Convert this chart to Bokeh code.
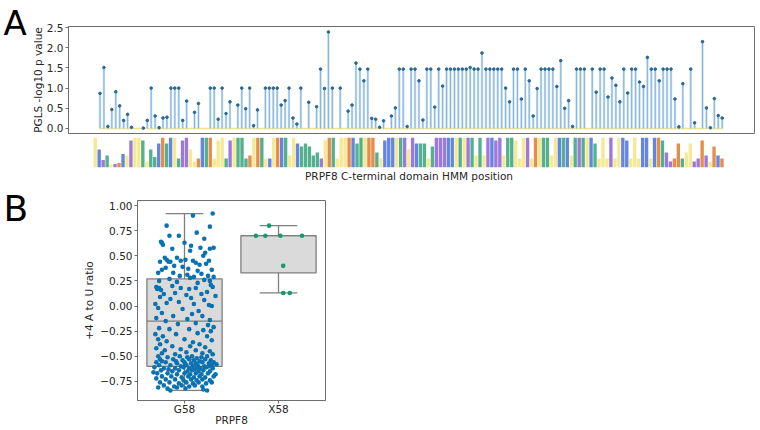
from bokeh.plotting import figure
from bokeh.layouts import column, row
from bokeh.models import Range1d, FixedTicker, PrintfTickFormatter
from bokeh.core.properties import value
from bokeh.embed import file_html
from bokeh.resources import INLINE

# ---------------- data ----------------
STEM_POS = [0, 1, 2, 3, 4, 5, 6, 7, 8, 11, 12, 13, 14, 15, 16, 17, 18, 19, 20, 21, 22, 24, 25,
            28, 29, 30, 31, 32, 33, 35, 36, 37, 38, 39, 40, 42, 43, 44, 45, 46, 47, 48, 49, 50,
            51, 53, 55, 56, 57, 58, 59, 61, 63, 64, 65, 66, 67, 68, 69, 70, 71, 72, 74, 75, 76,
            77, 78, 79, 80, 81, 82, 83, 84, 85, 86, 87, 88, 89, 90, 91, 92, 93, 94, 95, 96, 97,
            98, 99, 100, 101, 102, 103, 104, 105, 106, 107, 108, 109, 110, 111, 112, 113, 114,
            115, 116, 117, 118, 119, 120, 121, 122, 123, 125, 126, 127, 128, 129, 130, 131, 132,
            133, 134, 135, 136, 137, 138, 139, 140, 141, 142, 143, 144, 145, 146, 147, 148, 150,
            151, 153, 154, 155, 156, 157, 158]
STEM_VAL = [0.87, 1.51, 0.05, 0.47, 0.91, 0.56, 0.20, 0.35, 0.03, 0.01, 0.20, 1.00, 0.31, 0.02,
            0.26, 0.28, 1.00, 1.00, 1.00, 0.20, 0.68, 0.40, 0.62,
            1.00, 1.00, 0.23, 1.00, 0.37, 0.66, 0.58, 1.00, 0.49, 1.00, 0.07, 0.46, 1.00, 1.00,
            1.00, 1.00, 0.58, 0.69, 1.00, 0.26, 0.11,
            1.00, 0.65, 0.54, 1.47, 0.99, 2.39, 1.00, 1.00, 0.43, 0.58, 1.62, 1.47, 1.18, 1.47,
            0.25, 0.23, 0.03, 0.19, 0.31, 0.51, 1.47,
            1.47, 0.05, 1.47, 1.47, 1.18, 0.21, 1.47, 1.47, 0.53, 1.47, 1.05, 1.47, 1.47, 1.47,
            1.47, 1.47, 1.47, 1.51, 1.47, 1.47, 1.87,
            1.47, 1.47, 1.47, 1.47, 1.47, 1.00, 0.66, 1.47, 1.47, 0.73, 1.47, 1.18, 0.31, 0.99,
            1.47, 1.47, 1.47,
            1.47, 1.04, 1.68, 0.50, 0.69, 0.05, 1.47, 1.47, 1.47, 1.47, 0.90, 1.47, 1.47, 0.78,
            1.25, 1.07, 0.66,
            1.47, 0.88, 1.47, 1.47, 1.15, 1.04, 1.76, 1.47, 1.47, 1.18, 1.47, 1.47, 1.47, 0.73,
            0.04, 1.11, 1.47,
            0.14, 2.15, 0.51, 0.02, 0.74, 0.32, 0.26]

LOGO_LETTERS = ("FKYSANERMP" "FFTATSHDGK" "LSNNLAERTD" "VLLGQLGGSE" "FETIKLEHTA"
                "FKGTGSSNFE" "GAFFEKSGFE" "DSVKKKLTNL" "QRSGASQPNR" "RFTLNSVTAN"
                "RNYITGFVLQ" "ADLTGVLHGK" "ITPTLKSALV" "QIFRHALVKK" "AHESYNEDSA"
                "CQNDQADRE")
LOGO_HEIGHT = [1.0, 0.6, 0.25, 0.4, 0.1, 0.12, 0.15, 0.45, 0.4, 0.9,
               1.0, 1.0, 0.9, 0.2, 0.6, 0.35, 0.8, 1.0, 0.8, 1.0,
               1.0, 0.3, 0.9, 1.0, 0.6, 0.2, 0.3, 1.0, 1.0, 1.0,
               0.3, 0.9, 1.0, 0.3, 0.9, 1.0, 1.0, 1.0, 0.3, 0.4,
               1.0, 1.0, 1.0, 0.3, 0.3, 1.0, 1.0, 1.0, 1.0, 0.4,
               1.0, 0.8, 0.7, 0.8, 0.7, 0.4, 0.5, 0.3, 0.9, 1.0,
               1.0, 0.3, 1.0, 1.0, 1.0, 1.0, 0.8, 1.0, 1.0, 1.0,
               1.0, 0.5, 0.3, 0.9, 1.0, 1.0, 1.0, 1.0, 1.0, 0.6,
               1.0, 0.8, 0.8, 0.8, 0.3, 0.7, 1.0, 1.0, 1.0, 1.0,
               1.0, 1.0, 1.0, 1.0, 1.0, 1.0, 0.4, 1.0, 0.4, 1.0,
               1.0, 0.9, 1.0, 0.4, 1.0, 1.0, 0.9, 0.3, 1.0, 1.0,
               0.3, 1.0, 1.0, 1.0, 1.0, 0.4, 1.0, 1.0, 1.0, 1.0,
               0.4, 1.0, 1.0, 1.0, 1.0, 1.0, 0.8, 0.3, 1.0, 0.3,
               1.0, 0.3, 1.0, 1.0, 0.9, 0.3, 1.0, 0.3, 1.0, 1.0,
               0.3, 1.0, 1.0, 0.9, 0.5, 0.2, 0.3, 0.8, 0.3, 0.5,
               0.8, 0.2, 0.3, 0.9, 0.4, 0.2, 0.7, 0.4, 0.3]

LETTER_COLORS = {}
for _l in "AVLIMFWC":
    LETTER_COLORS[_l] = "#f3e37a"
for _l in "GST":
    LETTER_COLORS[_l] = "#2a9d70"
for _l in "KRH":
    LETTER_COLORS[_l] = "#3d68d8"
for _l in "QNYP":
    LETTER_COLORS[_l] = "#8658d0"
for _l in "DE":
    LETTER_COLORS[_l] = "#e0701f"

A_YTICKS = [0.0, 0.5, 1.0, 1.5, 2.0, 2.5]

B_CATS = ["G58", "X58"]
B_Q1 = [-0.60, 0.33]
B_MED = [-0.15, 0.70]
B_Q3 = [0.27, 0.70]
B_LO = [-0.84, 0.13]
B_HI = [0.92, 0.80]
B_YTICKS = [-0.75, -0.5, -0.25, 0.0, 0.25, 0.5, 0.75, 1.0]
B_YLABELS = ["\u22120.75", "\u22120.50", "\u22120.25", "0.00", "0.25", "0.50", "0.75", "1.00"]

G58_DX = [0.09, 0.30, -0.19, 0.27, -0.16, -0.06, 0.13, 0.21, -0.25, -0.23, -0.24, 0.00, 0.07,
          0.17, 0.27, 0.31, -0.13, 0.06, 0.22, -0.21, -0.19, -0.08, -0.04, -0.26, -0.17, -0.15,
          0.01, 0.09, 0.12, 0.16, 0.23, 0.26, 0.20, -0.11, -0.02, -0.24, -0.20, 0.04, 0.14, 0.29,
          -0.28, -0.12, -0.05, 0.03, 0.18, 0.25, 0.31, 0.06, 0.10, -0.16, 0.21, -0.27, 0.27,
          -0.08, 0.14,
          -0.30, -0.29, -0.27, -0.25, -0.13, -0.04, 0.05, 0.12, 0.28, 0.30, 0.24, -0.22, -0.10,
          0.02, 0.18, -0.26, -0.15, 0.07, 0.21, 0.33, -0.31, -0.19, -0.06, 0.10, 0.26, -0.28,
          -0.02, 0.15, 0.29, -0.24, 0.08, 0.19, -0.12, -0.30, 0.03, 0.27, -0.20, 0.12, -0.07,
          0.25, 0.31, -0.27, -0.16, 0.05, 0.20, 0.28, -0.31, -0.23, -0.09, 0.14, 0.24, -0.28,
          -0.19, 0.00, 0.09, 0.29, -0.26, -0.13, 0.06, 0.16, 0.22, -0.30, -0.21, -0.04, 0.12,
          0.27, -0.24, 0.02, 0.19, -0.10, 0.30,
          -0.28, -0.18, -0.05, 0.03, 0.08, 0.13, 0.18, 0.24, -0.26, -0.12, -0.02, 0.05, 0.10,
          0.16, 0.22, 0.28, -0.30, -0.20, -0.08, 0.00, 0.07, 0.12, 0.19, 0.26, 0.31, -0.27,
          -0.15, -0.04, 0.02, 0.09, 0.14, 0.21, 0.29, -0.32, -0.22, -0.10, -0.01, 0.05, 0.11,
          0.17, 0.23, 0.30, -0.25, -0.13, -0.06, 0.03, 0.08, 0.15, 0.20, 0.27, -0.29, -0.18,
          -0.08, 0.00, 0.06, 0.12, 0.18, 0.25, -0.24, -0.14, -0.03, 0.04, 0.10, 0.16, 0.22,
          0.31, -0.30, -0.20, -0.10, -0.01, 0.07, 0.13, 0.19, 0.27, -0.26, -0.16, -0.06, 0.02,
          0.09, 0.15, 0.23, -0.22, -0.11, -0.03, 0.05, 0.11, 0.19, -0.28, -0.18, -0.08, 0.01,
          0.20, 0.24, -0.15, -0.24, 0.34, -0.33, 0.33, 0.29, -0.09, 0.01, 0.26, -0.17, 0.14]
G58_Y = [0.90, 0.92, 0.80, 0.79, 0.70, 0.70, 0.73, 0.67, 0.64, 0.61, 0.63, 0.63, 0.60,
         0.58, 0.57, 0.58, 0.57, 0.55, 0.53, 0.48, 0.46, 0.48, 0.45, 0.44, 0.44, 0.44,
         0.46, 0.45, 0.43, 0.41, 0.42, 0.45, 0.50, 0.40, 0.39, 0.36, 0.38, 0.37, 0.35, 0.36,
         0.33, 0.33, 0.30, 0.31, 0.32, 0.30, 0.29, 0.28, 0.29, 0.27, 0.26, 0.25, 0.25,
         0.24, 0.23,
         0.19, 0.17, 0.18, 0.16, 0.20, 0.18, 0.17, 0.18, 0.21, 0.19, 0.14, 0.12, 0.13,
         0.11, 0.12, 0.09, 0.07, 0.08, 0.06, 0.10, 0.02, 0.03, 0.04, 0.02, 0.01, -0.02,
         -0.03, -0.05, 0.00, -0.07, -0.08, -0.10, -0.10, -0.12, -0.13, -0.14, -0.15, -0.17, -0.18,
         -0.19, -0.21, -0.22, -0.23, -0.23, -0.24, -0.25, -0.28, -0.30, -0.28, -0.27, -0.30, -0.33,
         -0.35, -0.33, -0.36, -0.34, -0.38, -0.40, -0.40, -0.38, -0.41, -0.42, -0.44, -0.43, -0.44,
         -0.45, -0.47, -0.46, -0.47, -0.48, -0.48,
         -0.50, -0.51, -0.50, -0.51, -0.50, -0.52, -0.51, -0.50, -0.53, -0.53, -0.54, -0.53, -0.54,
         -0.55, -0.53, -0.54, -0.56, -0.56, -0.57, -0.56, -0.57, -0.57, -0.56, -0.57, -0.56, -0.59,
         -0.59, -0.60, -0.59, -0.60, -0.59, -0.60, -0.59, -0.61, -0.62, -0.62, -0.61, -0.62, -0.63,
         -0.62, -0.61, -0.62, -0.64, -0.65, -0.64, -0.65, -0.64, -0.65, -0.64, -0.65, -0.67, -0.67,
         -0.68, -0.67, -0.68, -0.67, -0.68, -0.67, -0.70, -0.70, -0.71, -0.70, -0.71, -0.70, -0.71,
         -0.70, -0.72, -0.73, -0.73, -0.74, -0.73, -0.74, -0.73, -0.74, -0.76, -0.76, -0.77, -0.76,
         -0.77, -0.76, -0.77, -0.79, -0.80, -0.79, -0.80, -0.79, -0.80, -0.81, -0.82, -0.81, -0.82,
         -0.83, -0.84, -0.84, -0.55, -0.58, -0.66, -0.68, -0.76, -0.55, -0.58, -0.60, -0.63, -0.61]
X58_DX = [-0.10, -0.24, -0.14, 0.02, 0.25, 0.05, 0.05, 0.12]
X58_Y = [0.80, 0.70, 0.70, 0.70, 0.70, 0.40, 0.13, 0.13]

PANEL_LETTERS = ["A", "B"]

# ---------------- style ----------------
FONT = "DejaVu Sans"
TXT = "#262626"
SPINE = "#6e6e6e"
BOXC = "#7f7f7f"


def no_align(p):
    if "frame_align" in p.properties():
        p.frame_align = False


def style_axis(ax, size="10.5px"):
    ax.axis_line_color = SPINE
    ax.major_tick_line_color = SPINE
    ax.minor_tick_line_color = None
    ax.major_tick_out = 3
    ax.major_tick_in = 0
    ax.major_label_standoff = 2
    ax.major_label_text_font = FONT
    ax.major_label_text_font_size = size
    ax.major_label_text_color = TXT
    ax.axis_label_text_font = FONT
    ax.axis_label_text_font_size = size
    ax.axis_label_text_font_style = "normal"
    ax.axis_label_text_color = TXT


def letter_fig(letter, w, h, tx, ty, size="36px"):
    f = figure(width=w, height=h, output_backend="svg", toolbar_location=None,
               x_range=Range1d(0, w), y_range=Range1d(h, 0),
               min_border=0, min_border_left=0, min_border_right=0,
               min_border_top=0, min_border_bottom=0)
    f.axis.visible = False
    f.grid.visible = False
    f.outline_line_color = None
    f.text(x=[tx], y=[ty], text=[letter], text_font=value(FONT), text_font_size=size,
           text_color="black", text_baseline="alphabetic", text_align="left")
    no_align(f)
    return f


# ---------------- panel A ----------------
pA = figure(width=728, height=137, output_backend="svg", toolbar_location=None,
            x_range=Range1d(-8, 166.2), y_range=Range1d(-0.124, 2.525),
            min_border_left=35, min_border_right=2, min_border_top=26, min_border_bottom=4)
no_align(pA)
pA.xgrid.visible = False
pA.ygrid.visible = False
pA.xaxis.visible = False
pA.outline_line_color = SPINE
style_axis(pA.yaxis[0])
pA.yaxis.ticker = FixedTicker(ticks=A_YTICKS)
pA.yaxis.formatter = PrintfTickFormatter(format="%.1f")
pA.yaxis.axis_label = "PGLS -log10 p value"
pA.yaxis.axis_label_standoff = 0

pA.segment(x0=[STEM_POS[0]], y0=[0], x1=[STEM_POS[-1]], y1=[0], line_color="#f3e37c", line_width=1.5)
pA.segment(x0=STEM_POS, y0=[0] * len(STEM_POS), x1=STEM_POS, y1=STEM_VAL,
           line_color="#c9dff1", line_width=2.4)
pA.segment(x0=STEM_POS, y0=[0] * len(STEM_POS), x1=STEM_POS, y1=STEM_VAL,
           line_color="#74a9d2", line_width=0.8)
pA.scatter(x=STEM_POS, y=STEM_VAL, size=2.6, color="#2a6793")

figA = letter_fig(PANEL_LETTERS[0], 28, 137, 3, 22, "34px")

# ---------------- logo strip ----------------
pL = figure(width=756, height=48, output_backend="svg", toolbar_location=None,
            x_range=pA.x_range, y_range=Range1d(0, 1.0),
            min_border_left=63, min_border_right=2, min_border_top=0, min_border_bottom=18)
no_align(pL)
pL.xgrid.visible = False
pL.ygrid.visible = False
pL.yaxis.visible = False
pL.outline_line_color = None
style_axis(pL.xaxis[0])
pL.xaxis.axis_line_color = None
pL.xaxis.major_tick_line_color = None
pL.xaxis.major_label_text_font_size = "0px"
pL.xaxis.major_label_standoff = 0
pL.xaxis.ticker = FixedTicker(ticks=[])
pL.xaxis.axis_label = "PRPF8 C-terminal domain HMM position"
pL.xaxis.axis_label_standoff = 2
logo_x = list(range(len(LOGO_LETTERS)))
logo_c = [LETTER_COLORS[c] for c in LOGO_LETTERS]
pL.vbar(x=logo_x, bottom=0, top=LOGO_HEIGHT, width=0.85, fill_color=logo_c,
        fill_alpha=0.8, line_color=None)

# ---------------- panel B ----------------
pB = figure(width=298, height=245, output_backend="svg", toolbar_location=None,
            x_range=Range1d(-0.5, 1.5), y_range=Range1d(-0.94, 1.05),
            min_border_left=97, min_border_right=13, min_border_top=15, min_border_bottom=30)
no_align(pB)
pB.xgrid.visible = False
pB.ygrid.visible = False
pB.outline_line_color = SPINE
style_axis(pB.xaxis[0])
style_axis(pB.yaxis[0])
pB.xaxis.ticker = FixedTicker(ticks=[0, 1])
pB.xaxis.major_label_overrides = {0: B_CATS[0], 1: B_CATS[1]}
pB.xaxis.major_label_standoff = -1
pB.xaxis.axis_label = "PRPF8"
pB.xaxis.axis_label_standoff = -4
pB.yaxis.ticker = FixedTicker(ticks=B_YTICKS)
pB.yaxis.major_label_overrides = {t: l for t, l in zip(B_YTICKS, B_YLABELS)}
pB.yaxis.axis_label = "+4 A to U ratio"
pB.yaxis.axis_label_standoff = 2

bx = [0, 1]
pB.segment(x0=bx, y0=B_LO, x1=bx, y1=B_Q1, line_color=BOXC, line_width=1.3)
pB.segment(x0=bx, y0=B_Q3, x1=bx, y1=B_HI, line_color=BOXC, line_width=1.3)
pB.segment(x0=[x - 0.2 for x in bx], y0=B_LO, x1=[x + 0.2 for x in bx], y1=B_LO,
           line_color=BOXC, line_width=1.3)
pB.segment(x0=[x - 0.2 for x in bx], y0=B_HI, x1=[x + 0.2 for x in bx], y1=B_HI,
           line_color=BOXC, line_width=1.3)
pB.vbar(x=bx, bottom=B_Q1, top=B_Q3, width=0.8, fill_color="#dadada", line_color=BOXC,
        line_width=1.3)
pB.segment(x0=[x - 0.4 for x in bx], y0=B_MED, x1=[x + 0.4 for x in bx], y1=B_MED,
           line_color=BOXC, line_width=1.3)
pB.scatter(x=[0 + d for d in G58_DX], y=G58_Y, size=4.6, color="#0a72b0", line_color=None)
pB.scatter(x=[1 + d for d in X58_DX], y=X58_Y, size=4.6, color="#109c72", line_color=None)

figB = letter_fig(PANEL_LETTERS[1], 40, 245, 3, 23)

layout = column(row(figA, pA, spacing=0), pL, row(figB, pB, spacing=0), spacing=0)
open("out.html", "w").write(file_html(layout, INLINE))
